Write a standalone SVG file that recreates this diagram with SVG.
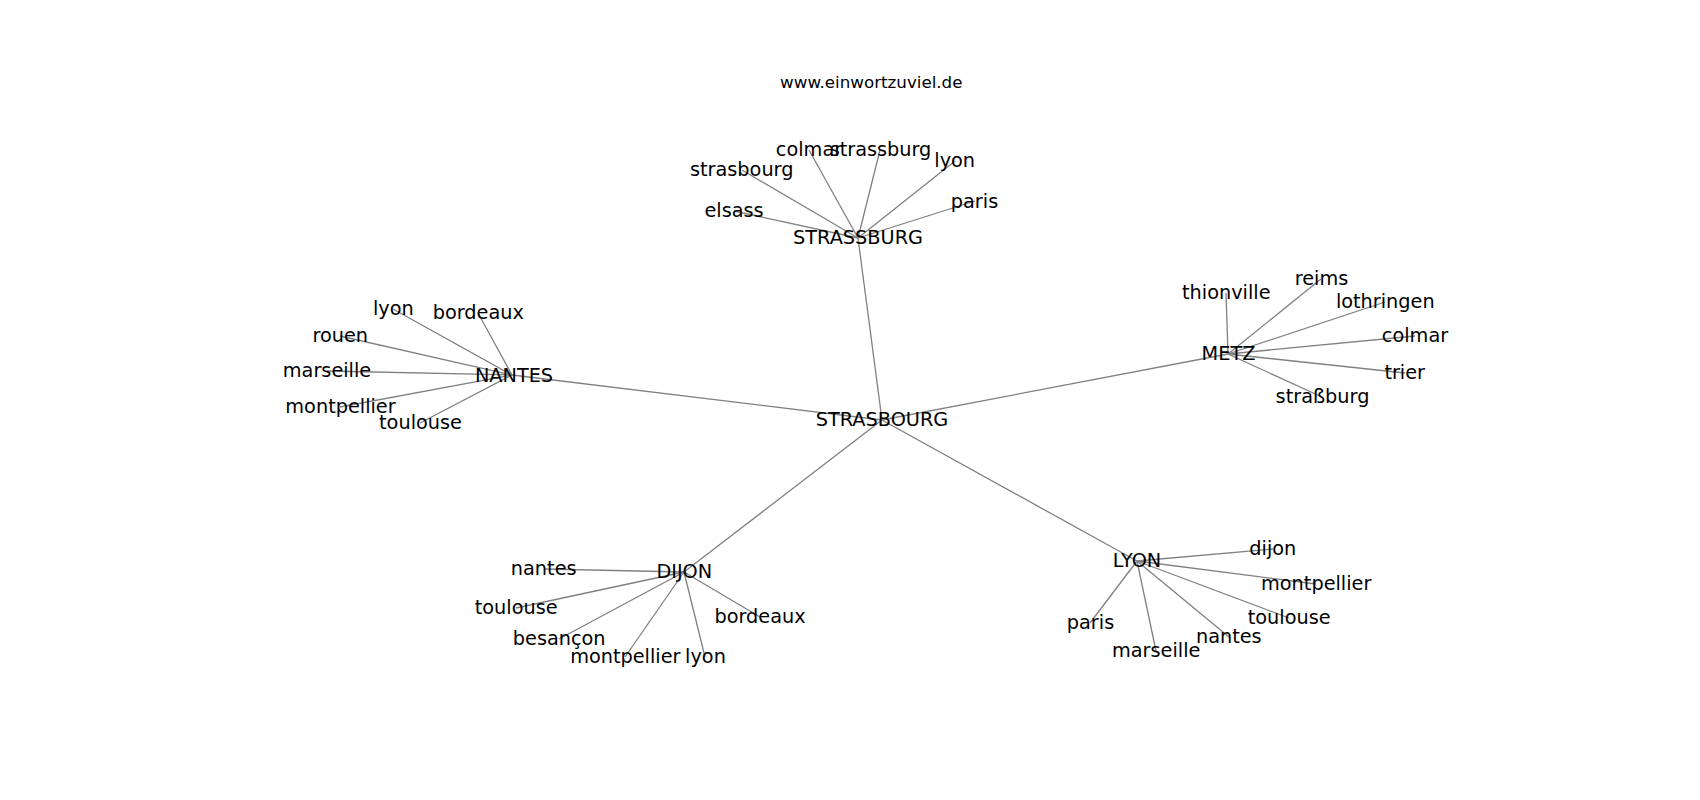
<svg xmlns="http://www.w3.org/2000/svg" width="1700" height="800" viewBox="0 0 1700 800">
<style>
.e{stroke:#808080;stroke-width:1.3;fill:none}
text{font-family:"DejaVu Sans","Liberation Sans",sans-serif;fill:#000;text-anchor:middle}
.n{font-size:19.3px}
.t{font-size:16.7px}
</style>
<rect width="1700" height="800" fill="#fff"/>
<text class="t" x="871.3" y="88">www.einwortzuviel.de</text>
<g id="connectors">
<line class="e" x1="882" y1="420" x2="858" y2="238"/>
<line class="e" x1="882" y1="420" x2="512" y2="375"/>
<line class="e" x1="882" y1="420" x2="1228" y2="354"/>
<line class="e" x1="882" y1="420" x2="684" y2="572"/>
<line class="e" x1="882" y1="420" x2="1137" y2="561"/>
<line class="e" x1="858" y1="238" x2="734" y2="211"/>
<line class="e" x1="858" y1="238" x2="742" y2="170"/>
<line class="e" x1="858" y1="238" x2="809" y2="150"/>
<line class="e" x1="858" y1="238" x2="880" y2="150"/>
<line class="e" x1="858" y1="238" x2="955" y2="161"/>
<line class="e" x1="858" y1="238" x2="975" y2="201"/>
<line class="e" x1="512" y1="375" x2="393" y2="309"/>
<line class="e" x1="512" y1="375" x2="478" y2="313"/>
<line class="e" x1="512" y1="375" x2="340" y2="336"/>
<line class="e" x1="512" y1="375" x2="327" y2="371"/>
<line class="e" x1="512" y1="375" x2="340" y2="407"/>
<line class="e" x1="512" y1="375" x2="420" y2="423"/>
<line class="e" x1="1228" y1="354" x2="1226" y2="293"/>
<line class="e" x1="1228" y1="354" x2="1321" y2="279"/>
<line class="e" x1="1228" y1="354" x2="1385" y2="302"/>
<line class="e" x1="1228" y1="354" x2="1415" y2="336"/>
<line class="e" x1="1228" y1="354" x2="1405" y2="373"/>
<line class="e" x1="1228" y1="354" x2="1322" y2="397"/>
<line class="e" x1="684" y1="572" x2="544" y2="569"/>
<line class="e" x1="684" y1="572" x2="516" y2="608"/>
<line class="e" x1="684" y1="572" x2="559" y2="639"/>
<line class="e" x1="684" y1="572" x2="625" y2="657"/>
<line class="e" x1="684" y1="572" x2="705" y2="657"/>
<line class="e" x1="684" y1="572" x2="760" y2="617"/>
<line class="e" x1="1137" y1="561" x2="1273" y2="549"/>
<line class="e" x1="1137" y1="561" x2="1316" y2="584"/>
<line class="e" x1="1137" y1="561" x2="1289" y2="618"/>
<line class="e" x1="1137" y1="561" x2="1229" y2="637"/>
<line class="e" x1="1137" y1="561" x2="1156" y2="651"/>
<line class="e" x1="1137" y1="561" x2="1090" y2="623"/>
</g>
<g id="n-strasbourg"><text class="n" x="882" y="426">STRASBOURG</text></g>
<g id="n-strassburg"><text class="n" x="858" y="244">STRASSBURG</text></g>
<g id="n-nantes"><text class="n" x="514" y="381.5">NANTES</text></g>
<g id="n-metz"><text class="n" x="1228.5" y="360">METZ</text></g>
<g id="n-dijon"><text class="n" x="684.3" y="578.3">DIJON</text></g>
<g id="n-lyon"><text class="n" x="1137" y="567.3">LYON</text></g>
<g id="s-elsass"><text class="n" x="734" y="216.7">elsass</text></g>
<g id="s-strasbourg"><text class="n" x="741.7" y="176">strasbourg</text></g>
<g id="s-colmar"><text class="n" x="809" y="156">colmar</text></g>
<g id="s-strassburg"><text class="n" x="880.5" y="156">strassburg</text></g>
<g id="s-lyon"><text class="n" x="954.7" y="167.3">lyon</text></g>
<g id="s-paris"><text class="n" x="974.5" y="207.7">paris</text></g>
<g id="na-lyon"><text class="n" x="393.3" y="315">lyon</text></g>
<g id="na-bordeaux"><text class="n" x="478.3" y="319">bordeaux</text></g>
<g id="na-rouen"><text class="n" x="340.3" y="342.3">rouen</text></g>
<g id="na-marseille"><text class="n" x="327" y="377.3">marseille</text></g>
<g id="na-montpellier"><text class="n" x="340.5" y="413.3">montpellier</text></g>
<g id="na-toulouse"><text class="n" x="420.5" y="429.3">toulouse</text></g>
<g id="m-thionville"><text class="n" x="1226.3" y="299">thionville</text></g>
<g id="m-reims"><text class="n" x="1321.5" y="285">reims</text></g>
<g id="m-lothringen"><text class="n" x="1385.3" y="308.3">lothringen</text></g>
<g id="m-colmar"><text class="n" x="1415" y="342.3">colmar</text></g>
<g id="m-trier"><text class="n" x="1404.7" y="379.3">trier</text></g>
<g id="m-strassburg"><text class="n" x="1322.5" y="402.7">straßburg</text></g>
<g id="d-nantes"><text class="n" x="543.7" y="575">nantes</text></g>
<g id="d-toulouse"><text class="n" x="516.2" y="614.3">toulouse</text></g>
<g id="d-besancon"><text class="n" x="559.2" y="645">besançon</text></g>
<g id="d-montpellier"><text class="n" x="625.3" y="662.7">montpellier</text></g>
<g id="d-lyon"><text class="n" x="705.5" y="662.7">lyon</text></g>
<g id="d-bordeaux"><text class="n" x="760" y="623.3">bordeaux</text></g>
<g id="l-dijon"><text class="n" x="1272.8" y="555">dijon</text></g>
<g id="l-montpellier"><text class="n" x="1316.2" y="590">montpellier</text></g>
<g id="l-toulouse"><text class="n" x="1289.2" y="624.3">toulouse</text></g>
<g id="l-nantes"><text class="n" x="1228.8" y="643.3">nantes</text></g>
<g id="l-marseille"><text class="n" x="1156.2" y="656.7">marseille</text></g>
<g id="l-paris"><text class="n" x="1090.5" y="629.3">paris</text></g>
</svg>
